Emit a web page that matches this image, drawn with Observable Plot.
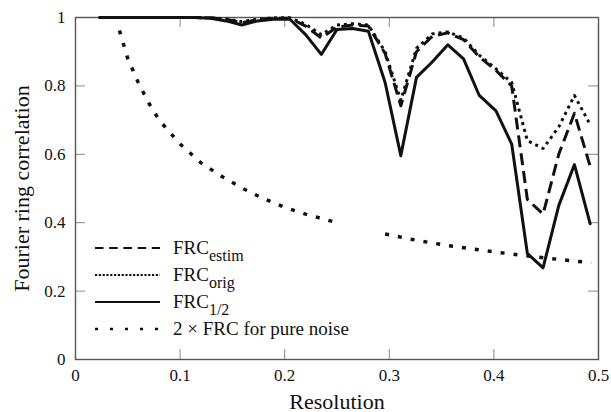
<!DOCTYPE html>
<html><head><meta charset="utf-8">
<script src="https://cdn.jsdelivr.net/npm/d3@7"></script>
<script src="https://cdn.jsdelivr.net/npm/@observablehq/plot@0.6"></script>
<style>html,body{margin:0;padding:0;background:#fff}svg{display:block}</style>
</head><body><div id="chart"></div>
<script>
const resolution = [0.023,0.038,0.053,0.068,0.083,0.098,0.114,0.129,0.144,0.159,0.174,0.189,0.205,0.220,0.235,0.250,0.265,0.280,0.296,0.311,0.326,0.341,0.356,0.371,0.386,0.402,0.417,0.432,0.447,0.462,0.477,0.492];
const frcHalf  = [1,1,1,1,1,1,1,0.998,0.99,0.978,0.99,0.995,0.995,0.95,0.892,0.965,0.968,0.96,0.81,0.596,0.825,0.87,0.92,0.879,0.772,0.727,0.63,0.31,0.268,0.45,0.57,0.397];
const frcEstim = [1,1,1,1,1,1,1,0.999,0.995,0.985,0.993,0.998,0.998,0.975,0.94,0.972,0.978,0.975,0.895,0.742,0.9,0.945,0.955,0.935,0.885,0.845,0.8,0.468,0.425,0.6,0.72,0.565];
const frcOrig  = [1,1,1,1,1,1,1,0.999,0.996,0.988,0.995,0.999,0.999,0.98,0.95,0.978,0.982,0.978,0.9,0.758,0.91,0.952,0.958,0.94,0.89,0.85,0.81,0.64,0.617,0.68,0.772,0.687];
const noiseX = [0.042,0.05,0.06,0.07,0.08,0.09,0.10,0.12,0.14,0.16,0.18,0.20,0.22,0.25,0.27,0.296,0.32,0.35,0.38,0.41,0.44,0.47,0.493];
const noiseY = [0.962,0.88,0.81,0.75,0.70,0.665,0.63,0.575,0.535,0.50,0.47,0.445,0.425,0.40,NaN,0.367,0.352,0.336,0.323,0.311,0.30,0.29,0.283];
const xTicks = [0,0.1,0.2,0.3,0.4,0.5];
const yTicks = [0,0.2,0.4,0.6,0.8,1];
const xTickLabels = ["0","0.1","0.2","0.3","0.4","0.5"];
const yTickLabels = ["0","0.2","0.4","0.6","0.8","1"];
const xTitle = "Resolution";
const yTitle = "Fourier ring correlation";
const legendMain = ["FRC","FRC","FRC","2 \u00d7 FRC for pure noise"];
const legendSub = ["estim","orig","1/2",""];

const curves = resolution.map((x,i)=>({x, estim: frcEstim[i], orig: frcOrig[i], half: frcHalf[i]}));
const noise = noiseX.map((x,i)=>({x, y: noiseY[i]}));

const serif = "Liberation Serif, Times New Roman, serif";
const W = 611, H = 412, mL = 75, mR = 13, mT = 17, mB = 53;
const fw = W - mL - mR, fh = H - mT - mB, tick = 10;

const plot = Plot.plot({
  width: W, height: H,
  marginLeft: mL, marginRight: mR, marginTop: mT, marginBottom: mB,
  style: {fontFamily: serif, background: "#fff", color: "#111"},
  x: {domain: [0, 0.5]},
  y: {domain: [0, 1]},
  marks: [
    Plot.ruleX(xTicks, {x: d=>d, insetTop: fh - tick, stroke: "#888", strokeWidth: 1}),
    Plot.ruleX(xTicks, {x: d=>d, insetBottom: fh - tick, stroke: "#888", strokeWidth: 1}),
    Plot.ruleY(yTicks, {y: d=>d, insetRight: fw - tick, stroke: "#888", strokeWidth: 1}),
    Plot.ruleY(yTicks, {y: d=>d, insetLeft: fw - tick, stroke: "#888", strokeWidth: 1}),
    Plot.frame({stroke: "#555", strokeWidth: 1.4}),
    Plot.axisX({anchor: "bottom", ticks: xTicks, tickSize: 0, tickPadding: 9, tickFormat: (d,i)=>xTickLabels[i], fontSize: 17, fontFamily: serif, label: null}),
    Plot.axisY({anchor: "left", ticks: yTicks, tickSize: 0, tickPadding: 10, tickFormat: (d,i)=>yTickLabels[i], fontSize: 17, fontFamily: serif, label: null}),
    Plot.line(noise, {x: "x", y: "y", stroke: "#111", strokeWidth: 3.5, strokeDasharray: "4,9", strokeLinecap: "butt"}),
    Plot.line(curves, {x: "x", y: "orig", stroke: "#111", strokeWidth: 3, strokeDasharray: "3,4", strokeLinecap: "butt"}),
    Plot.line(curves, {x: "x", y: "estim", stroke: "#111", strokeWidth: 3, strokeDasharray: "12,6", strokeLinecap: "butt"}),
    Plot.line(curves, {x: "x", y: "half", stroke: "#111", strokeWidth: 3}),
    Plot.text([xTitle], {text: d=>d, frameAnchor: "bottom", dy: 49, textAnchor: "middle", fontSize: 22, fontFamily: serif, fill: "#111"}),
    Plot.text([yTitle], {text: d=>d, frameAnchor: "left", dx: -54, rotate: -90, textAnchor: "middle", lineAnchor: "middle", fontSize: 22, fontFamily: serif, fill: "#111"})
  ]
});
document.getElementById("chart").appendChild(plot);

const svg = d3.select(plot);
// force the serif face on every label (tick labels included)
svg.selectAll("text").style("font-family", serif).style("font-variant", "normal");

// legend (inside the frame, lower left)
const lg = svg.append("g").attr("text-anchor", "start").attr("fill", "#111");
const rowY = [248, 275, 302, 329];
const styles = [
  {dash: "8.5,5.7", w: 2},
  {dash: "2.2,1.6", w: 2},
  {dash: null, w: 2.2},
  {dash: "3,12", w: 2.4}
];
legendMain.forEach((t, i) => {
  const ln = lg.append("line").attr("x1", 95).attr("x2", 160).attr("y1", rowY[i]).attr("y2", rowY[i])
    .attr("stroke", "#111").attr("stroke-width", styles[i].w);
  if (styles[i].dash) ln.attr("stroke-dasharray", styles[i].dash);
  const tx = lg.append("text").attr("x", 173).attr("y", rowY[i] + 6)
    .style("font-family", serif).style("font-size", "19px").style("text-anchor", "start");
  tx.append("tspan").text(t);
  if (legendSub[i]) tx.append("tspan").attr("dy", 7).style("font-size", "16px").text(legendSub[i]);
});
</script>
</body></html>
